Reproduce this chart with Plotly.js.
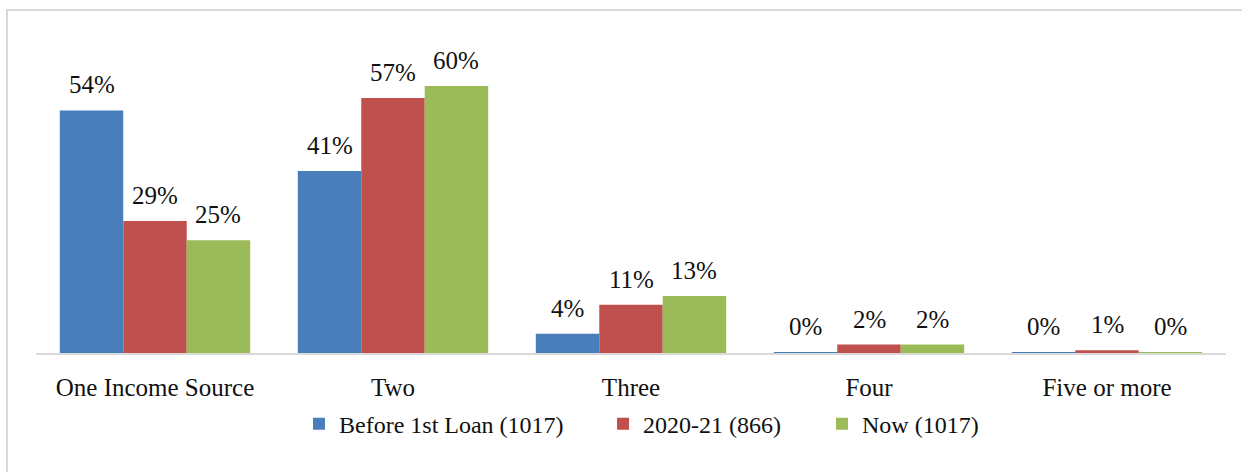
<!DOCTYPE html>
<html>
<head>
<meta charset="utf-8">
<script src="https://cdn.plot.ly/plotly-3.0.1.min.js"></script>
<style>
  html, body { margin: 0; padding: 0; background: #fff; }
  #wrap { position: relative; width: 1242px; height: 472px; overflow: hidden; }
  #chart { position: absolute; left: 0; top: 0; width: 1242px; height: 472px; }
  #frame { position: absolute; left: 6px; top: 9px; width: 1300px; height: 600px;
           border-left: 2px solid #d9d9d9; border-top: 2px solid #d9d9d9; pointer-events: none; }
</style>
</head>
<body>
<div id="wrap">
  <div id="chart"></div>
  <div id="frame"></div>
</div>
<script>
// Data
const categories = ['One Income Source', 'Two', 'Three', 'Four', 'Five or more'];
const seriesNames = ['Before 1st Loan (1017)', '2020-21 (866)', 'Now (1017)'];
const beforeLoan = [54.4, 40.8, 4.3, 0.2, 0.2];
const year2021   = [29.6, 57.2, 10.8, 1.9, 0.6];
const nowVals    = [25.3, 59.9, 12.8, 1.9, 0.2];
const beforeLabels = ['54%', '41%', '4%', '0%', '0%'];
const yearLabels   = ['29%', '57%', '11%', '2%', '1%'];
const nowLabels    = ['25%', '60%', '13%', '2%', '0%'];

const colors = ['#4a7ebb', '#c0504d', '#9bbb59'];
const FONT = 'Liberation Serif, Times New Roman, serif';

const seriesVals = [beforeLoan, year2021, nowVals];
const seriesLabels = [beforeLabels, yearLabels, nowLabels];
const legendIds = ['legend', 'legend2', 'legend3'];

const traces = seriesVals.map((vals, i) => ({
  type: 'bar',
  name: seriesNames[i],
  x: categories,
  y: vals,
  legend: legendIds[i],
  marker: { color: colors[i], line: { width: 0 } },
  hoverinfo: 'skip'
}));

// Bar width in px: plot width / categories * (1 - bargap) / 3
const plotW = 1242 - 36 - 16;
const barPx = plotW / categories.length * 0.8 / 3;

const annotations = [];
seriesVals.forEach((vals, i) => {
  vals.forEach((v, j) => {
    annotations.push({
      x: categories[j], y: v, xref: 'x', yref: 'y',
      text: seriesLabels[i][j], showarrow: false,
      xanchor: 'center', yanchor: 'bottom',
      xshift: (i - 1) * barPx, yshift: 10,
      font: { family: FONT, size: 25, color: '#111' }
    });
  });
});

function legendAt(xp) {
  return {
    orientation: 'h', x: xp, xanchor: 'left', y: -0.227, yanchor: 'middle',
    font: { family: FONT, size: 24, color: '#111' },
    bgcolor: 'rgba(0,0,0,0)', borderwidth: 0
  };
}

const layout = {
  width: 1242, height: 472,
  margin: { l: 36, r: 16, t: 40, b: 119 },
  paper_bgcolor: '#ffffff', plot_bgcolor: '#ffffff',
  barmode: 'group', bargap: 0.2, bargroupgap: 0,
  showlegend: true,
  legend: legendAt(0.221),
  legend2: legendAt(0.4765),
  legend3: legendAt(0.6605),
  xaxis: {
    type: 'category', showgrid: false, zeroline: false,
    showline: true, linecolor: '#d9d9d9', linewidth: 2,
    ticks: '', ticklabelstandoff: 11,
    tickfont: { family: FONT, size: 25, color: '#111' }
  },
  yaxis: {
    range: [0, 70.2], showgrid: false, zeroline: false, showline: false,
    showticklabels: false, ticks: ''
  },
  annotations: annotations,
  font: { family: FONT }
};

Plotly.newPlot('chart', traces, layout, { displayModeBar: false, staticPlot: true });
</script>
</body>
</html>
